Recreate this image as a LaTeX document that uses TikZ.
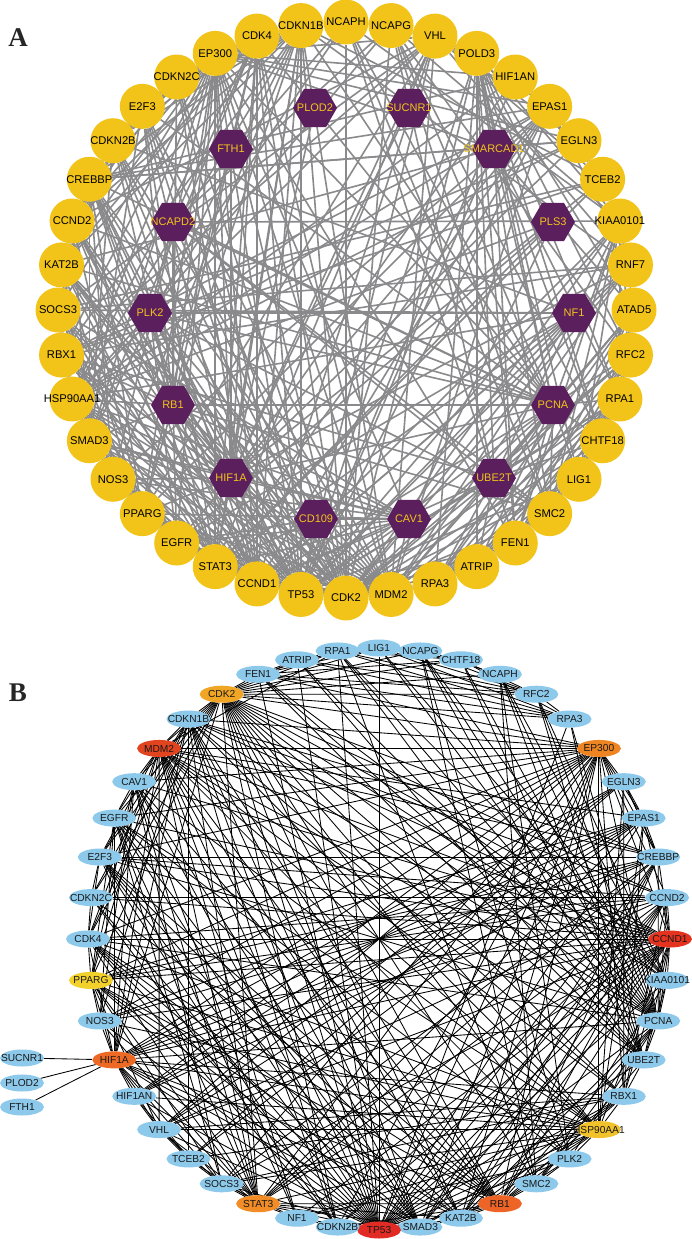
\documentclass[tikz,border=0pt]{standalone}
\usepackage{fontspec}
\setmainfont{Liberation Sans}
\newfontfamily\labfont{Liberation Serif}
\usetikzlibrary{shapes.geometric}
\pgfdeclarelayer{bg}
\pgfdeclarelayer{edges}
\pgfsetlayers{bg,edges,main}
\definecolor{ayel}{HTML}{F2C41A}
\definecolor{apur}{HTML}{5C1F5E}
\definecolor{agray}{HTML}{8A8A8C}
\definecolor{lb}{HTML}{8CC9EA}
\definecolor{cdktwo}{HTML}{F0A624}
\definecolor{mdmtwo}{HTML}{E2441F}
\definecolor{epthree}{HTML}{EE8522}
\definecolor{ccndone}{HTML}{E5331F}
\definecolor{ppargc}{HTML}{F2D12A}
\definecolor{hspc}{HTML}{F2C22A}
\definecolor{hifc}{HTML}{EE6A24}
\definecolor{statc}{HTML}{F18C26}
\definecolor{tpc}{HTML}{E22B24}
\definecolor{rbc}{HTML}{EE6426}
\tikzset{
  acirc/.style={circle,fill=ayel,minimum size=45pt,inner sep=0pt,text=black,font=\fontsize{11.2}{11.2}\selectfont},
  ahex/.style={regular polygon,regular polygon sides=6,fill=apur,minimum size=44pt,inner sep=0pt,text=ayel,font=\fontsize{11}{11}\selectfont},
  bell/.style={ellipse,minimum width=44pt,minimum height=17pt,inner sep=0pt,text=black!90,font=\fontsize{10.2}{10.2}\selectfont},
  aedge/.style={draw=agray,line width=1.6pt},
  bedge/.style={draw=black,line width=0.85pt},
  panlab/.style={font=\labfont\bfseries\fontsize{27}{27}\selectfont,text=black!85}
}
\def\net{TP53/{MDM2,CDK2,CCND1,EP300,CREBBP,RB1,HIF1A,STAT3,HSP90AA1,SMAD3,KAT2B,CDKN1B,CDK4,EGFR,CAV1,PCNA,VHL,NOS3,PPARG,RPA1,ATRIP,E2F3,CDKN2B,SOCS3,RBX1,HIF1AN,EPAS1,PLK2,NF1,CCND2,CDKN2C,FEN1,LIG1,RPA3,UBE2T,KIAA0101},
MDM2/{RB1,CDK2,CDKN1B,EP300,CREBBP,HIF1A,HSP90AA1,CCND1,STAT3,SMAD3,KAT2B,RBX1,VHL,E2F3,PPARG,EGFR,CAV1,CDK4,CDKN2B,NF1,PCNA,RPA1,UBE2T,EPAS1,PLK2},
CDK2/{CCND1,CDKN1B,RB1,E2F3,CDK4,CDKN2C,CDKN2B,PCNA,CCND2,EP300,HSP90AA1,STAT3,RBX1,SMAD3,FEN1,RPA1,RPA3,LIG1,KIAA0101,HIF1A,CREBBP,CAV1,EGFR,ATRIP,NCAPG,NCAPH,SMC2,PLK2,UBE2T,CHTF18,RFC2,KAT2B,PPARG},
EP300/{HIF1A,CREBBP,STAT3,SMAD3,KAT2B,EPAS1,RB1,CCND1,PPARG,HIF1AN,E2F3,PCNA,HSP90AA1,EGFR,CDKN1B,VHL,NOS3,EGLN3,SOCS3,CDK4,CCND2,FEN1,RBX1,CDKN2B,CAV1},
CCND1/{CDK4,RB1,CDKN1B,E2F3,CDKN2B,CDKN2C,STAT3,CREBBP,PCNA,HIF1A,PPARG,EGFR,CAV1,SMAD3,KAT2B,HSP90AA1,CCND2,NOS3,SOCS3,RBX1,KIAA0101,UBE2T,EPAS1,VHL,NF1},
RB1/{E2F3,CDK4,CCND2,CDKN1B,CDKN2B,CDKN2C,CREBBP,HIF1A,STAT3,SMAD3,KAT2B,PCNA,HSP90AA1,PPARG,RBX1,EGFR,CAV1,PLK2,SMC2},
STAT3/{HIF1A,CREBBP,SOCS3,EGFR,HSP90AA1,PPARG,SMAD3,NOS3,CAV1,KAT2B,VHL,CDKN1B,EPAS1,CCND2,NF1,TCEB2,CDK4,E2F3},
HIF1A/{SUCNR1,PLOD2,FTH1,VHL,HIF1AN,EGLN3,EPAS1,CREBBP,HSP90AA1,NOS3,PPARG,TCEB2,RBX1,CAV1,EGFR,SMAD3,KAT2B,CDKN1B,SOCS3,CDK4,CCND2,PCNA},
HSP90AA1/{EGFR,CDK4,NOS3,CAV1,VHL,PPARG,EPAS1,SMAD3,PLK2,CDKN1B,HIF1AN,EGLN3,RBX1,NF1,SOCS3,KAT2B},
PPARG/{CREBBP,NOS3,CAV1,EGFR,SMAD3,KAT2B,CDK4,CCND2,EPAS1,SOCS3,VHL},
PCNA/{RFC2,RPA1,RPA3,FEN1,LIG1,CHTF18,KIAA0101,UBE2T,CDKN1B,CDK4,ATRIP,SMC2,NCAPG,NCAPH,CCND2,E2F3,CREBBP,KAT2B,PLK2},
RFC2/{RPA1,RPA3,CHTF18,FEN1,LIG1,KIAA0101,ATRIP,UBE2T,NCAPG},
RPA1/{RPA3,ATRIP,FEN1,LIG1,CHTF18,UBE2T,KIAA0101,SMC2},
RPA3/{ATRIP,FEN1,LIG1,CHTF18,UBE2T},
FEN1/{LIG1,CHTF18,KIAA0101,ATRIP,UBE2T},
LIG1/{CHTF18,KIAA0101,ATRIP},
NCAPG/{NCAPH,SMC2,PLK2,UBE2T,KIAA0101,CHTF18},
NCAPH/{SMC2,KIAA0101,UBE2T,PLK2},
SMC2/{KIAA0101,UBE2T,PLK2},
UBE2T/{KIAA0101,RBX1,ATRIP,CHTF18},
VHL/{TCEB2,RBX1,EPAS1,EGLN3,HIF1AN,SOCS3,CCND2},
TCEB2/{RBX1,SOCS3,EPAS1,EGLN3,HIF1AN,CDKN1B},
RBX1/{SOCS3,EPAS1,CDKN1B,EGLN3,CCND2,KAT2B,SMAD3},
EGLN3/{EPAS1,HIF1AN,CREBBP},
EPAS1/{HIF1AN,CREBBP,NOS3},
CREBBP/{KAT2B,SMAD3,E2F3,CDKN1B,HIF1AN,SOCS3,NOS3,EGLN3},
SMAD3/{KAT2B,CDK4,CDKN2B,CDKN1B,EGFR,CAV1,E2F3,CCND2},
KAT2B/{E2F3,CDKN1B,CDK4,CCND2},
CDK4/{CCND2,CDKN2B,CDKN2C,CDKN1B,E2F3},
CCND2/{CDKN2B,CDKN2C,CDKN1B,E2F3},
CDKN2B/{CDKN2C,CDKN1B,E2F3},
CDKN2C/{CDKN1B,E2F3},
CDKN1B/{E2F3,NOS3},
EGFR/{CAV1,NOS3,NF1,SOCS3,PLK2},
CAV1/{NOS3,NF1,SOCS3},
NF1/{PLK2,SOCS3,CDKN2B}}
\def\netA{POLD3/{PCNA,RFC2,RPA1,RPA3,FEN1,LIG1,CHTF18,ATAD5,KIAA0101,CDK2,TP53,ATRIP,SMC2,NCAPG,UBE2T},
RNF7/{RBX1,CDKN1B,TCEB2,VHL,SOCS3,CDK2,HIF1A,EPAS1,MDM2,TP53,CCND1},
ATAD5/{PCNA,RFC2,CHTF18,RPA1,FEN1,LIG1,KIAA0101,UBE2T,ATRIP,RPA3},
SMARCAD1/{PCNA,RPA1,CHTF18,ATAD5,POLD3,FEN1,TP53,KAT2B,EP300},
NCAPD2/{NCAPG,NCAPH,SMC2,PLK2,KIAA0101,UBE2T,CDK2,PCNA,CDK4,RB1},
PLS3/{EGFR,HSP90AA1,CAV1,STAT3},
CD109/{EGFR,SMAD3,CAV1,STAT3,TP53}}
\begin{document}
\begin{tikzpicture}[x=1pt,y=-1pt]
\begin{pgfonlayer}{bg}
\fill[white] (0,0) rectangle (692,1239);
\end{pgfonlayer}
\useasboundingbox (0,0) rectangle (692,1239);
% ---------- Panel A ----------
\node[panlab] (labA) at (18,38) {A};
\foreach \n [count=\k from 0] in {NCAPH,NCAPG,VHL,POLD3,HIF1AN,EPAS1,EGLN3,TCEB2,KIAA0101,RNF7,ATAD5,RFC2,RPA1,CHTF18,LIG1,SMC2,FEN1,ATRIP,RPA3,MDM2,CDK2,TP53,CCND1,STAT3,EGFR,PPARG,NOS3,SMAD3,HSP90AA1,RBX1,SOCS3,KAT2B,CCND2,CREBBP,CDKN2B,E2F3,CDKN2C,EP300,CDK4,CDKN1B}
  \node[acirc] (a\n) at ({346+288*cos(90-9*\k)},{310-288*sin(90-9*\k)}) {\makebox[0pt]{\n}};
\foreach \n/\x/\y in {PLOD2/315/108,SUCNR1/409/108,FTH1/231/149,SMARCAD1/494/149,NCAPD2/173/222,PLS3/553/222,PLK2/150/313,NF1/574/313,RB1/173/405,PCNA/553/405,HIF1A/231/478,UBE2T/494/478,CD109/316/519,CAV1/409/519}
  \node[ahex] (a\n) at (\x,\y) {\makebox[0pt]{\n}};
% ---------- Panel B ----------
\node[panlab] (labB) at (18,693) {B};
\foreach \n/\c [count=\k from 0] in {LIG1/lb,NCAPG/lb,CHTF18/lb,NCAPH/lb,RFC2/lb,RPA3/lb,EP300/epthree,EGLN3/lb,EPAS1/lb,CREBBP/lb,CCND2/lb,CCND1/ccndone,KIAA0101/lb,PCNA/lb,UBE2T/lb,RBX1/lb,HSP90AA1/hspc,PLK2/lb,SMC2/lb,RB1/rbc,KAT2B/lb,SMAD3/lb,TP53/tpc,CDKN2B/lb,NF1/lb,STAT3/statc,SOCS3/lb,TCEB2/lb,VHL/lb,HIF1AN/lb,HIF1A/hifc,NOS3/lb,PPARG/ppargc,CDK4/lb,CDKN2C/lb,E2F3/lb,EGFR/lb,CAV1/lb,MDM2/mdmtwo,CDKN1B/lb,CDK2/cdktwo,FEN1/lb,ATRIP/lb,RPA1/lb}
  \node[bell,fill=\c] (b\n) at ({379+291*cos(90-360/44*\k)},{939-291*sin(90-360/44*\k)}) {\makebox[0pt]{\n}};
\foreach \n/\y in {SUCNR1/1058,PLOD2/1083,FTH1/1107}
  \node[bell,fill=lb] (b\n) at (22,\y) {\makebox[0pt]{\n}};
% ---------- Edges ----------
\begin{pgfonlayer}{edges}
\foreach \h/\l in \net {\foreach \t in \l {\draw[aedge] (a\h) -- (a\t);}}
\foreach \h/\l in \netA {\foreach \t in \l {\draw[aedge] (a\h) -- (a\t);}}
\foreach \h/\l in \net {\foreach \t in \l {\draw[bedge] (b\h) -- (b\t);}}
\end{pgfonlayer}
\end{tikzpicture}
\end{document}
